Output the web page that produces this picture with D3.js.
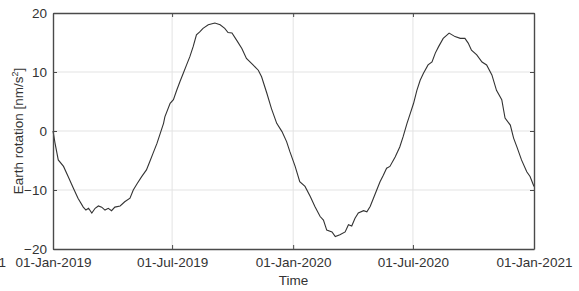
<!DOCTYPE html>
<html><head><meta charset="utf-8">
<script src="https://cdn.jsdelivr.net/npm/d3@7"></script>
<style>html,body{margin:0;padding:0;background:#fff;overflow:hidden}</style>
</head><body>
<svg id="chart" width="579" height="291"></svg>
<script>
const dates = ["2019-01-01","2019-01-04","2019-01-09","2019-01-17","2019-01-24","2019-02-01","2019-02-08","2019-02-16","2019-02-20","2019-02-24","2019-03-01","2019-03-06","2019-03-11","2019-03-16","2019-03-21","2019-03-26","2019-03-31","2019-04-05","2019-04-13","2019-04-20","2019-04-28","2019-05-03","2019-05-09","2019-05-16","2019-05-23","2019-05-28","2019-06-02","2019-06-08","2019-06-13","2019-06-18","2019-06-20","2019-06-28","2019-07-03","2019-07-08","2019-07-13","2019-07-18","2019-07-23","2019-07-28","2019-08-02","2019-08-07","2019-08-12","2019-08-17","2019-08-25","2019-09-04","2019-09-12","2019-09-19","2019-09-24","2019-09-30","2019-10-07","2019-10-15","2019-10-22","2019-11-01","2019-11-09","2019-11-14","2019-11-22","2019-11-29","2019-12-07","2019-12-15","2019-12-22","2019-12-27","2020-01-04","2020-01-11","2020-01-19","2020-01-27","2020-02-03","2020-02-11","2020-02-16","2020-02-21","2020-02-29","2020-03-05","2020-03-12","2020-03-20","2020-03-25","2020-03-30","2020-04-04","2020-04-09","2020-04-17","2020-04-22","2020-04-27","2020-05-02","2020-05-07","2020-05-12","2020-05-17","2020-05-22","2020-05-27","2020-06-04","2020-06-11","2020-06-16","2020-06-22","2020-06-27","2020-07-02","2020-07-07","2020-07-12","2020-07-17","2020-07-24","2020-07-30","2020-08-04","2020-08-09","2020-08-16","2020-08-25","2020-09-03","2020-09-11","2020-09-18","2020-09-23","2020-09-28","2020-10-06","2020-10-14","2020-10-21","2020-10-29","2020-11-05","2020-11-13","2020-11-18","2020-11-26","2020-12-01","2020-12-06","2020-12-13","2020-12-21","2020-12-26","2021-01-01"];
const values = [0.0,-2.0,-4.9,-6.0,-7.7,-9.7,-11.4,-12.9,-13.4,-13.1,-13.9,-13.1,-12.7,-12.9,-13.4,-13.1,-13.5,-12.9,-12.7,-12.0,-11.4,-10.0,-8.9,-7.7,-6.6,-5.2,-3.8,-2.1,-0.4,1.3,2.4,4.7,5.3,6.9,8.4,9.8,11.2,12.6,14.3,16.3,16.8,17.4,18.0,18.3,18.0,17.4,16.7,16.6,15.4,14.0,12.3,11.2,10.3,9.2,6.4,3.8,1.3,-0.1,-1.8,-3.5,-6.0,-8.6,-9.4,-11.1,-12.8,-14.5,-15.1,-16.8,-17.1,-17.9,-17.6,-17.1,-15.9,-16.1,-14.8,-13.9,-13.5,-13.7,-12.8,-11.4,-10.0,-8.6,-7.5,-6.3,-6.0,-4.4,-2.7,-1.0,1.3,3.0,4.7,6.9,8.6,9.8,11.2,11.7,13.2,14.3,15.7,16.6,16.0,15.7,15.7,14.9,13.7,12.9,11.7,11.2,9.5,6.9,5.3,2.2,1.0,-1.2,-2.7,-4.9,-6.9,-7.7,-9.4];
const xTickDates = ["2019-01-01","2019-07-01","2020-01-01","2020-07-01","2021-01-01"];
const xTickLabels = ["01-Jan-2019","01-Jul-2019","01-Jan-2020","01-Jul-2020","01-Jan-2021"];
const yTicks = [-20,-10,0,10,20];
const yLabel = "Earth rotation [nm/s²]";
const xLabel = "Time";

const parse = d3.utcParse("%Y-%m-%d");
const data = dates.map((d,i)=>({t:parse(d), v:values[i]}));
const svg = d3.select("#chart");
const m = {l:53, r:45, t:13, b:42};
const W = 579, H = 291;
const x = d3.scaleUtc().domain([parse("2019-01-01"), parse("2021-01-01")]).range([m.l, W-m.r]);
const y = d3.scaleLinear().domain([-20,20]).range([H-m.b, m.t]);
const xt = xTickDates.map(parse);
const font = "Liberation Sans, Arial, sans-serif";
const axisColor = "#4a4a4a";

// grid
const g = svg.append("g");
g.selectAll(".gx").data(xt.slice(1,-1)).join("line")
  .attr("x1",d=>x(d)).attr("x2",d=>x(d)).attr("y1",y(-20)).attr("y2",y(20))
  .attr("stroke","#e3e3e3").attr("stroke-width",1);
g.selectAll(".gy").data(yTicks.slice(1,-1)).join("line")
  .attr("x1",x.range()[0]).attr("x2",x.range()[1]).attr("y1",d=>y(d)).attr("y2",d=>y(d))
  .attr("stroke","#e3e3e3").attr("stroke-width",1);

// line
svg.append("path").datum(data)
  .attr("fill","none").attr("stroke","#333").attr("stroke-width",1.1)
  .attr("d", d3.line().x(d=>x(d.t)).y(d=>y(d.v)));

// axes
const fmtMap = new Map(xt.map((d,i)=>[+d, xTickLabels[i]]));
const xAxis = d3.axisBottom(x).tickValues(xt).tickFormat(d=>fmtMap.get(+d)).tickSizeInner(-4).tickSizeOuter(0).tickPadding(8);
const yAxis = d3.axisLeft(y).tickValues(yTicks).tickSizeInner(-4).tickSizeOuter(0).tickPadding(6);
const gx = svg.append("g").attr("transform",`translate(0,${y(-20)})`).call(xAxis);
const gy = svg.append("g").attr("transform",`translate(${x.range()[0]},0)`).call(yAxis);
const gxTop = svg.append("g").attr("transform",`translate(0,${y(20)})`).call(d3.axisTop(x).tickValues(xt).tickFormat("").tickSizeInner(-4).tickSizeOuter(0));
const gyR = svg.append("g").attr("transform",`translate(${x.range()[1]},0)`).call(d3.axisRight(y).tickValues(yTicks).tickFormat("").tickSizeInner(-4).tickSizeOuter(0));
[gx,gy,gxTop,gyR].forEach(a=>{
  a.selectAll(".domain").attr("stroke",axisColor).attr("stroke-width",1.4);
  a.selectAll(".tick line").attr("stroke",axisColor);
  a.selectAll("text").attr("font-family",font).attr("font-size",13.5).attr("fill","#333");
});

// clipped leftover label at far left
svg.append("text").attr("x",6).attr("y",y(-20)+8).attr("dy","0.71em").attr("text-anchor","end")
  .attr("font-family",font).attr("font-size",13.5).attr("fill","#333").text("01-Jan-2021");

svg.append("text").attr("x",(x.range()[0]+x.range()[1])/2).attr("y",285)
  .attr("text-anchor","middle").attr("font-family",font).attr("font-size",13.5).attr("fill","#333").text(xLabel);
svg.append("text").attr("transform",`translate(23,${(y(20)+y(-20))/2}) rotate(-90)`)
  .attr("text-anchor","middle").attr("font-family",font).attr("font-size",13.5).attr("fill","#333")
  .text("Earth rotation [nm/s").append("tspan").attr("baseline-shift","super").attr("font-size",9).text("2")
  .select(function(){return this.parentNode;}).append("tspan").text("]");
</script>
</body></html>
